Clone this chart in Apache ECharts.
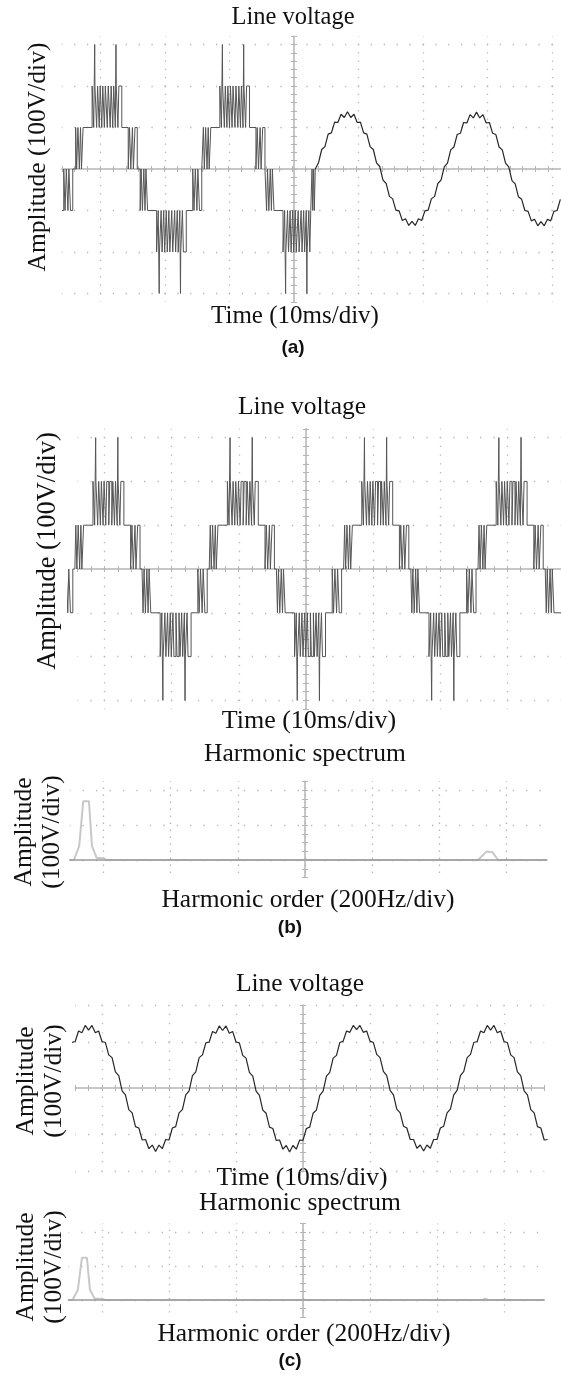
<!DOCTYPE html>
<html>
<head>
<meta charset="utf-8">
<script src="https://cdn.jsdelivr.net/npm/echarts@6/dist/echarts.min.js"></script>
<style>
  html, body { margin: 0; padding: 0; background: #fff; }
  #chart { width: 561px; height: 1376px; }
</style>
</head>
<body>
<div id="chart"></div>
<script>
// ---------------- data ----------------
// One positive half-cycle of the five-level PWM line voltage:
// [ms after the zero-level centre, volts]. Negative halves use the same pattern inverted.
const HALF_PATTERN = [
  [0.00, 0], [0.15, 100], [0.30, 0], [0.50, 100], [0.72, 0], [0.90, 100], [1.05, 0], [1.30, 100],
  [2.70, 200], [2.95, 100], [3.10, 300], [3.14, 200], [3.40, 100], [3.55, 200], [3.80, 100], [3.95, 200],
  [4.20, 100], [4.35, 200], [4.60, 100], [4.75, 200], [5.05, 100], [5.20, 200], [5.50, 100], [5.65, 200],
  [5.90, 100], [6.05, 200], [6.30, 100], [6.40, 300], [6.44, 200], [6.70, 100], [6.85, 200], [7.30, 100],
  [8.30, 0], [8.50, 100], [8.70, 0], [8.95, 100], [9.10, 0], [9.35, 100], [9.70, 0]
];

// (a) stepped part: start of each half-cycle (ms)
const A_POS_HALVES = [-34.0, -14.2];
const A_NEG_HALVES = [-44.0, -24.0, -4.4];
const A_STEP_END = 2.6;
const A_STEP_TAIL = [[2.6, -100], [2.8, 0], [2.9, -100], [3.05, 0], [3.15, -100], [3.3, 0]];

// (a) filtered part: volts sampled every 0.5 ms from 3.3 ms
const A_SINE_T0 = 3.3;
const A_SINE = [
  0, 15, 47, 54, 84, 87, 113, 112, 132, 124, 138, 124, 132, 112, 113, 87, 84, 54, 47, 15,
  6, -27, -35, -66, -72, -99, -101, -124, -120, -136, -126, -136, -120, -124, -101, -99, -72, -66, -35, -27,
  5, 14, 46, 53, 83, 86, 112, 111, 131, 123, 137, 123, 131, 111, 112, 86, 83, 53, 46, 14,
  5, -28, -36, -67, -73, -100, -102, -125, -121, -137, -127, -137, -121, -125, -102, -100, -73
];

// (b) stepped line voltage: start of each half-cycle (ms)
const B_POS_HALVES = [-34.4, -14.4, 5.6, 25.6];
const B_NEG_HALVES = [-44.4, -24.4, -4.4, 15.6, 35.6];

// (c) filtered line voltage: volts sampled every 0.5 ms from -34.5 ms
const C_SINE_T0 = -34.5;
const C_SINE = [
  99, 101, 124, 120, 136, 126, 136, 120, 124, 101, 99, 72, 66, 35, 27, -6, -15, -47, -54, -84,
  -87, -113, -112, -132, -124, -138, -124, -132, -112, -113, -87, -84, -54, -47, -15, -6, 27, 35, 66, 72,
  98, 100, 123, 119, 135, 125, 135, 119, 123, 100, 98, 71, 65, 34, 26, -7, -16, -48, -55, -85,
  -88, -114, -113, -133, -125, -139, -125, -133, -113, -114, -88, -85, -55, -48, -16, -7, 26, 34, 65, 71,
  99, 102, 124, 121, 136, 127, 136, 121, 124, 102, 99, 73, 66, 36, 27, -5, -15, -46, -54, -83,
  -87, -112, -112, -131, -124, -137, -124, -131, -112, -112, -87, -83, -54, -46, -15, -5, 27, 36, 66, 73,
  99, 101, 124, 120, 136, 126, 136, 120, 124, 101, 99, 72, 66, 35, 27, -6, -15, -47, -54, -84,
  -87, -113, -112
];
const SINE_STEP_MS = 0.5;

// Harmonic spectra: [Hz, volts]
const B_SPECTRUM = [[0, 0], [12, 0], [28, 40], [40, 168], [57, 168], [66, 40], [80, 6], [100, 6], [108, 0],
  [1215, 0], [1240, 24], [1258, 22], [1275, 0], [1420, 0]];
const C_SPECTRUM = [[0, 0], [12, 0], [28, 30], [40, 124], [55, 124], [64, 30], [78, 4], [100, 4], [108, 0],
  [1236, 0], [1244, 4], [1252, 0], [1420, 0]];

// ---------------- layout of the five scope screens ----------------
// cx, cy: pixel of the screen centre; dx, dy: pixels per division
const SCREENS = [
  { cx: 294, cy: 169, dx: 64.5, dy: 41.5, cols: [-3, 4], vSpan: [-3.2, 3.2], vTick: 0.2,
    rows: [-3, 3], hSpan: [-3.6, 4.2], hTick: 0.2, xr: [-35.8, 41.4], xC: 0, xPerDiv: 10, yr: [-320, 320] },
  { cx: 306, cy: 569, dx: 67.2, dy: 43.8, cols: [-3, 3], vSpan: [-3.2, 3.2], vTick: 0.2,
    rows: [-3, 3], hSpan: [-3.4, 3.8], hTick: 0.2, xr: [-35.4, 37.9], xC: 0, xPerDiv: 10, yr: [-320, 320] },
  { cx: 305, cy: 860, dx: 67.2, dy: 35, cols: [-3, 3], vSpan: [-0.5, 2.25], vTick: 0.25,
    rows: [0, 2], hSpan: [-3.5, 3.6], hTick: 0, xr: [0, 1420], xC: 700, xPerDiv: 200, yr: [-50, 225], spectrum: true },
  { cx: 303, cy: 1088, dx: 67, dy: 46, cols: [-3, 3], vSpan: [-1.8, 1.8], vTick: 0.2,
    rows: [-1, 1], edgeRows: 1.8, hSpan: [-3.4, 3.6], hTick: 0.2, xr: [-34.3, 36.4], xC: 0, xPerDiv: 10, yr: [-180, 180] },
  { cx: 303, cy: 1300, dx: 67, dy: 34, cols: [-3, 3], vSpan: [-0.5, 2.25], vTick: 0.25,
    rows: [0, 2], hSpan: [-3.5, 3.6], hTick: 0, xr: [0, 1420], xC: 700, xPerDiv: 200, yr: [-50, 225], spectrum: true }
];

const SERIF = '"Liberation Serif", "Times New Roman", serif';
const SANS = '"Liberation Sans", Arial, sans-serif';
const ROT = Math.PI / 2;
// [text, x, y, size, rotation, bold-sans]
const LABELS = [
  ['Line voltage', 293, 18, 24.5, 0],
  ['Amplitude (100V/div)', 38, 157, 25.5, ROT],
  ['Time (10ms/div)', 295, 316, 25, 0],
  ['(a)', 293, 348, 19, 0, true],
  ['Line voltage', 302, 407, 25.5, 0],
  ['Amplitude (100V/div)', 48, 551, 26.5, ROT],
  ['Time (10ms/div)', 309, 721, 26, 0],
  ['Harmonic spectrum', 305, 754, 25.5, 0],
  ['Amplitude', 24, 832, 25.5, ROT],
  ['(100V/div)', 52, 832, 25.5, ROT],
  ['Harmonic order (200Hz/div)', 308, 900, 25.5, 0],
  ['(b)', 290, 928, 19, 0, true],
  ['Line voltage', 300, 984, 25.5, 0],
  ['Amplitude', 26, 1081, 25.5, ROT],
  ['(100V/div)', 54, 1081, 25.5, ROT],
  ['Time (10ms/div)', 302, 1178, 25.5, 0],
  ['Harmonic spectrum', 300, 1203, 25.5, 0],
  ['Amplitude', 26, 1267, 25.5, ROT],
  ['(100V/div)', 54, 1267, 25.5, ROT],
  ['Harmonic order (200Hz/div)', 304, 1334, 25.5, 0],
  ['(c)', 290, 1361, 19, 0, true]
];

const GRID_DOT = '#b6b6b6';
const AXIS_GRAY = '#b5b5b5';
const STEP_COLOR = '#555555';
const SINE_COLOR = '#262626';
const SPECTRUM_COLOR = '#c8c8c8';

// ---------------- option building ----------------
const option = { animation: false, backgroundColor: '#ffffff', grid: [], xAxis: [], yAxis: [], series: [], graphic: [] };

function bareAxis(extra) {
  return Object.assign({
    type: 'value', axisLine: { show: false, onZero: false }, axisTick: { show: false },
    axisLabel: { show: false }, splitLine: { show: false }
  }, extra);
}

function dotted(gap) {
  return { show: true, lineStyle: { color: GRID_DOT, width: 1.3, type: [1.3, gap - 1.3], dashOffset: 0.65 } };
}

function addScreen(s) {
  const px = d => s.cx + d * s.dx;
  const py = d => s.cy - d * s.dy;
  const tickStyle = { color: AXIS_GRAY, width: 1 };

  // dotted division columns and the vertical centre axis with its small ticks
  let g = option.grid.length;
  option.grid.push({ left: px(s.cols[0]), width: (s.cols[1] - s.cols[0]) * s.dx,
    top: py(s.vSpan[1]), height: (s.vSpan[1] - s.vSpan[0]) * s.dy });
  option.xAxis.push(bareAxis({ gridIndex: g, min: s.cols[0], max: s.cols[1], interval: 1,
    axisLine: { show: false, onZero: true }, splitLine: dotted(s.dy / 5) }));
  option.xAxis.push(bareAxis({ gridIndex: g, min: s.cols[0], max: s.cols[1], axisLine: { show: false, onZero: true } }));
  const vt = { show: true, length: 3, lineStyle: tickStyle };
  option.yAxis.push(bareAxis({ gridIndex: g, position: 'left', min: s.vSpan[0], max: s.vSpan[1], interval: s.vTick,
    axisLine: { show: true, onZero: true, lineStyle: { color: AXIS_GRAY, width: 1.5 } }, axisTick: vt }));
  option.yAxis.push(bareAxis({ gridIndex: g, position: 'right', min: s.vSpan[0], max: s.vSpan[1], interval: s.vTick,
    axisLine: { show: false, onZero: true }, axisTick: vt }));

  // dotted division rows and the horizontal centre axis
  g = option.grid.length;
  option.grid.push({ left: px(s.hSpan[0]), width: (s.hSpan[1] - s.hSpan[0]) * s.dx,
    top: py(s.rows[1]), height: (s.rows[1] - s.rows[0]) * s.dy });
  option.yAxis.push(bareAxis({ gridIndex: g, min: s.rows[0], max: s.rows[1], interval: 1, splitLine: dotted(s.dx / 5) }));
  option.yAxis.push(bareAxis({ gridIndex: g, min: s.rows[0], max: s.rows[1] }));
  const ht = s.hTick ? { show: true, length: 3, lineStyle: tickStyle } : { show: false };
  const lineCol = s.spectrum ? '#9a9a9a' : AXIS_GRAY;
  option.xAxis.push(bareAxis({ gridIndex: g, position: 'bottom', min: s.hSpan[0], max: s.hSpan[1],
    interval: s.hTick || undefined, z: s.spectrum ? 5 : 0,
    axisLine: { show: true, onZero: true, lineStyle: { color: lineCol, width: 1.5 } }, axisTick: ht }));
  option.xAxis.push(bareAxis({ gridIndex: g, position: 'top', min: s.hSpan[0], max: s.hSpan[1],
    interval: s.hTick || undefined, axisLine: { show: false, onZero: true }, axisTick: ht }));

  // dotted rows along the top and bottom edges of the screen
  if (s.edgeRows) {
    g = option.grid.length;
    option.grid.push({ left: px(s.hSpan[0]), width: (s.hSpan[1] - s.hSpan[0]) * s.dx,
      top: py(s.edgeRows), height: 2 * s.edgeRows * s.dy });
    option.yAxis.push(bareAxis({ gridIndex: g, min: -s.edgeRows, max: s.edgeRows, interval: 2 * s.edgeRows,
      splitLine: dotted(s.dx / 5) }));
    option.xAxis.push(bareAxis({ gridIndex: g, min: s.hSpan[0], max: s.hSpan[1] }));
  }

  // data grid, in physical units
  g = option.grid.length;
  option.grid.push({ left: px((s.xr[0] - s.xC) / s.xPerDiv), width: (s.xr[1] - s.xr[0]) / s.xPerDiv * s.dx,
    top: py(s.yr[1] / 100), height: (s.yr[1] - s.yr[0]) / 100 * s.dy });
  const xi = option.xAxis.length, yi = option.yAxis.length;
  option.xAxis.push(bareAxis({ gridIndex: g, min: s.xr[0], max: s.xr[1] }));
  option.yAxis.push(bareAxis({ gridIndex: g, min: s.yr[0], max: s.yr[1] }));
  return { xi, yi };
}

function steppedTrace(pos, neg) {
  const halves = pos.map(t => [t, 1]).concat(neg.map(t => [t, -1])).sort((a, b) => a[0] - b[0]);
  const pts = [];
  halves.forEach(([t0, sgn]) => HALF_PATTERN.forEach(([dt, v]) => pts.push([+(t0 + dt).toFixed(3), sgn * v])));
  return pts;
}
function sampled(t0, values) {
  return values.map((v, i) => [+(t0 + i * SINE_STEP_MS).toFixed(3), v]);
}
function trace(ax, data, color, width, step, z) {
  option.series.push({
    type: 'line', xAxisIndex: ax.xi, yAxisIndex: ax.yi, data, step: step || false,
    symbol: 'none', showSymbol: false, clip: true, silent: true, z: z || 2,
    lineStyle: { color, width }
  });
}

const ax = SCREENS.map(addScreen);

// (a)
trace(ax[0], steppedTrace(A_POS_HALVES, A_NEG_HALVES).filter(p => p[0] < A_STEP_END).concat(A_STEP_TAIL),
  STEP_COLOR, 1, 'end');
trace(ax[0], sampled(A_SINE_T0, A_SINE), SINE_COLOR, 1.2);
// (b)
trace(ax[1], steppedTrace(B_POS_HALVES, B_NEG_HALVES), STEP_COLOR, 1, 'end');
trace(ax[2], B_SPECTRUM, SPECTRUM_COLOR, 2, false, 1);
// (c)
trace(ax[3], sampled(C_SINE_T0, C_SINE), SINE_COLOR, 1.2);
trace(ax[4], C_SPECTRUM, SPECTRUM_COLOR, 2, false, 1);

LABELS.forEach(([text, x, y, size, rot, bold]) => {
  option.graphic.push({
    type: 'text', x, y, rotation: rot, silent: true,
    style: {
      text, fill: '#111',
      font: (bold ? 'bold ' : '') + size + 'px ' + (bold ? SANS : SERIF),
      align: 'center', verticalAlign: 'middle', textAlign: 'center', textVerticalAlign: 'middle'
    }
  });
});

const chart = echarts.init(document.getElementById('chart'), null, { renderer: 'canvas' });
chart.setOption(option);
</script>
</body>
</html>
